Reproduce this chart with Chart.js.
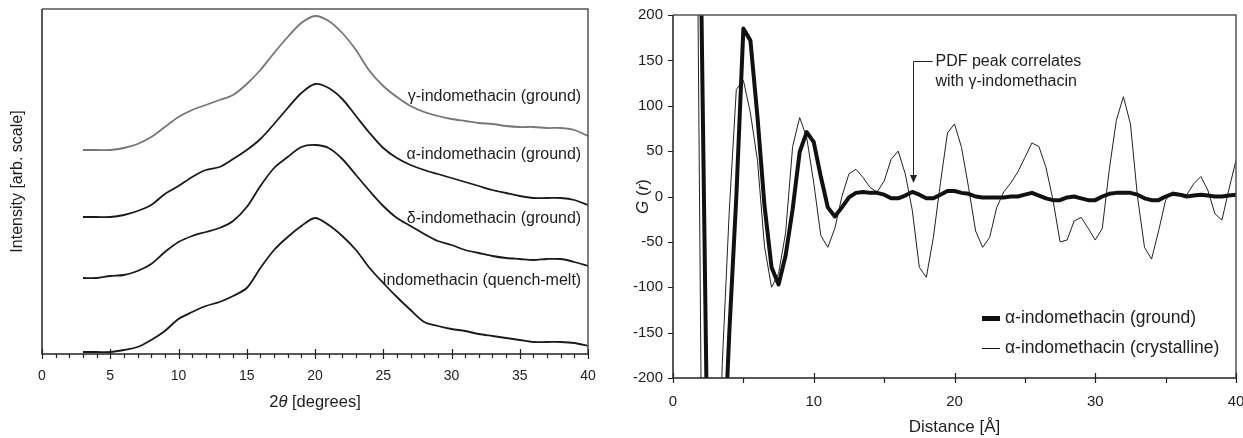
<!DOCTYPE html>
<html>
<head>
<meta charset="utf-8">
<script src="https://cdn.jsdelivr.net/npm/chart.js@4.4.1/dist/chart.umd.min.js"></script>
<style>
  html, body { margin:0; padding:0; background:#fff; }
  #wrap { position:relative; width:1243px; height:438px; overflow:hidden; }
  #left { position:absolute; left:0; top:0; width:620px; height:438px; }
  #right { position:absolute; left:620px; top:0; width:623px; height:438px; }
</style>
</head>
<body>
<div id="wrap">
  <div id="left"><canvas id="xrdChart"></canvas></div>
  <div id="right"><canvas id="pdfChart"></canvas></div>
</div>
<script>
// --- XRD (gauche) : 2theta en degres, intensite en unites arbitraires (courbes decalees)
const xrdAngle = [3,4,5,6,7,8,9,10,11,12,13,14,15,16,17,18,19,20,21,22,23,24,25,26,27,28,29,30,31,32,33,34,35,36,37,38,39,40];
const gammaGround = [204,204,204,206,210,217,227,237,244,249,254,259,270,284,301,317,331,338,333,321,304,283,268,257,248,242,238,235,233,231,230,228,227,227,226,226,224,218];
const alphaGround = [137,137,137,139,143,149,160,168,177,184,187,195,204,215,230,246,261,270,266,255,238,221,206,196,189,184,180,176,172,168,164,161,158,156,156,156,154,149];
const deltaGround = [76,76,78,79,83,90,102,112,118,122,126,133,147,168,186,197,207,209,206,195,179,163,148,136,128,120,113,109,104,101,98,96,95,94,95,95,92,88];
const quenchMelt = [2,2,2,4,7,14,23,35,42,48,52,58,66,86,104,117,128,136,129,118,104,86,71,57,44,32,28,25,23,20,18,16,14,12,12,12,11,8];
const xrdNames = ['\u03b3-indomethacin (ground)', '\u03b1-indomethacin (ground)', '\u03b4-indomethacin (ground)', 'indomethacin (quench-melt)'];
const xrdLabelY = [257, 199, 135, 73];

// --- PDF (droite) : G(r) en fonction de la distance
const distance = [1.5,2,2.5,3,3.5,4,4.5,5,5.5,6,6.5,7,7.5,8,8.5,9,9.5,10,10.5,11,11.5,12,12.5,13,13.5,14,14.5,15,15.5,16,16.5,17,17.5,18,18.5,19,19.5,20,20.5,21,21.5,22,22.5,23,23.5,24,24.5,25,25.5,26,26.5,27,27.5,28,28.5,29,29.5,30,30.5,31,31.5,32,32.5,33,33.5,34,34.5,35,35.5,36,36.5,37,37.5,38,38.5,39,39.5,40];
const groundPdf = [600,230,-350,-420,-330,-150,0,185,172,88,
  -10,-78,-97,-65,-14,49,71,60,22,-12,
  -22,-12,-1,4,5,4,4,2,-2,-2,
  1,5,2,-2,-2,2,6,6,4,3,
  0,-1,-1,-1,-1,0,0,2,4,1,
  -2,-4,-4,-1,0,-2,-4,-4,0,3,
  4,4,4,2,-2,-4,-4,0,3,2,
  0,1,2,1,0,0,1,2];
const crystalPdf = [730,-220,-500,-450,-185,-15,118,128,92,40,
  -55,-100,-85,-40,55,87,65,15,-43,-56,
  -35,0,25,30,21,10,5,17,41,50,
  25,-15,-78,-89,-45,15,70,80,54,10,
  -38,-56,-45,-12,5,15,27,43,59,55,
  32,-4,-50,-48,-27,-23,-35,-48,-35,30,
  84,110,80,0,-56,-69,-38,-4,5,3,
  2,14,22,7,-19,-26,8,40];
const pdfNames = ['\u03b1-indomethacin (ground)', '\u03b1-indomethacin (crystalline)'];

const FONT = "'Liberation Sans', Arial, Helvetica, sans-serif";
const TEXT = '#1e1e1e';

function pts(xs, ys){ return xs.map((v,i)=>({x:v, y:ys[i]})); }

// texte avec morceaux en italique
function drawRich(ctx, parts, size, cx, cy, rotate){
    ctx.save();
    ctx.translate(cx, cy);
    if(rotate) ctx.rotate(-Math.PI/2);
    const fonts = parts.map(p => (p[1] ? 'italic ' : '') + size + 'px ' + FONT);
    let total = 0;
    parts.forEach((p,i)=>{ ctx.font = fonts[i]; total += ctx.measureText(p[0]).width; });
    let x = -total/2;
    ctx.textBaseline = 'middle'; ctx.textAlign = 'left'; ctx.fillStyle = TEXT;
    parts.forEach((p,i)=>{ ctx.font = fonts[i]; ctx.fillText(p[0], x, 0); x += ctx.measureText(p[0]).width; });
    ctx.restore();
}

// tailles d'axes fixes, sans marge ajoutee pour les etiquettes
function fixX(h){ return s => { s.height = h; s.paddingLeft = 0; s.paddingRight = 0; }; }
function fixY(w){ return s => { s.width = w; s.paddingTop = 0; s.paddingBottom = 0; }; }

// cadre + graduations dessines a la main
const axisFrame = {
    id: 'axisFrame',
    afterDraw(chart, args, o){
        const {ctx, chartArea: a, scales} = chart;
        const x = scales.x, y = scales.y;
        ctx.save();
        ctx.strokeStyle = o.frameColor; ctx.lineWidth = o.frameWidth;
        ctx.beginPath();
        ctx.moveTo(a.left, a.top); ctx.lineTo(a.right, a.top); ctx.lineTo(a.right, a.bottom);
        ctx.stroke();
        ctx.strokeStyle = o.axisColor; ctx.lineWidth = o.axisWidth;
        ctx.beginPath();
        ctx.moveTo(a.left, a.top); ctx.lineTo(a.left, a.bottom); ctx.lineTo(a.right, a.bottom);
        ctx.stroke();
        ctx.lineWidth = 1.2;
        ctx.beginPath();
        for(let v = x.min; v <= x.max + 1e-9; v += o.minorX){
            const px = Math.round(x.getPixelForValue(v)) + 0.5;
            const major = Math.abs(v/o.majorX - Math.round(v/o.majorX)) < 1e-6;
            ctx.moveTo(px, a.bottom - (major ? o.majorUp : 0));
            ctx.lineTo(px, a.bottom + (major ? o.majorDown : o.minorDown));
        }
        if(o.yStep){
            for(let v = y.min; v <= y.max + 1e-9; v += o.yStep){
                const py = Math.round(y.getPixelForValue(v)) + 0.5;
                ctx.moveTo(a.left - o.yTickLen, py); ctx.lineTo(a.left, py);
            }
        }
        ctx.stroke();
        ctx.restore();
    }
};

// etiquettes des courbes XRD + titre x
const xrdText = {
    id: 'xrdText',
    afterDraw(chart){
        const {ctx, scales, chartArea: a} = chart;
        ctx.save();
        ctx.font = '16px ' + FONT; ctx.fillStyle = TEXT;
        ctx.textAlign = 'right'; ctx.textBaseline = 'middle';
        xrdNames.forEach((n,i)=>{
            ctx.fillText(n, scales.x.getPixelForValue(39.5), scales.y.getPixelForValue(xrdLabelY[i]));
        });
        ctx.restore();
        drawRich(ctx, [['2',false],['\u03b8',true],[' [degrees]',false]], 16.5, (a.left+a.right)/2, 402, false);
    }
};

// fleche, annotation, legende, titre y
const pdfText = {
    id: 'pdfText',
    afterDraw(chart){
        const {ctx, scales, chartArea: a} = chart;
        const x = scales.x, y = scales.y;
        ctx.save();
        ctx.strokeStyle = '#222'; ctx.fillStyle = '#222'; ctx.lineWidth = 1;
        const ax = Math.round(x.getPixelForValue(17.05)) + 0.5;
        const ay = Math.round(y.getPixelForValue(149)) + 0.5;
        const tip = y.getPixelForValue(15);
        ctx.beginPath();
        ctx.moveTo(x.getPixelForValue(18.45), ay); ctx.lineTo(ax, ay); ctx.lineTo(ax, tip - 6);
        ctx.stroke();
        ctx.beginPath();
        ctx.moveTo(ax - 3.5, tip - 8); ctx.lineTo(ax + 3.5, tip - 8); ctx.lineTo(ax, tip);
        ctx.closePath(); ctx.fill();
        ctx.font = '16px ' + FONT; ctx.fillStyle = TEXT;
        ctx.textAlign = 'left'; ctx.textBaseline = 'middle';
        ctx.fillText('PDF peak correlates', x.getPixelForValue(18.65), y.getPixelForValue(148.5));
        ctx.fillText('with \u03b3-indomethacin', x.getPixelForValue(18.65), y.getPixelForValue(126.5));
        // legende
        const lx0 = a.right - 254, lx1 = a.right - 236;
        const rows = [a.bottom - 59.5, a.bottom - 29.5];
        const widths = [5, 1];
        ctx.font = '17.5px ' + FONT;
        pdfNames.forEach((n,i)=>{
            ctx.strokeStyle = '#111'; ctx.lineWidth = widths[i];
            ctx.beginPath(); ctx.moveTo(lx0, rows[i]); ctx.lineTo(lx1, rows[i]); ctx.stroke();
            ctx.fillText(n, a.right - 231, rows[i]);
        });
        ctx.restore();
        drawRich(ctx, [['G',true],[' (',false],['r',true],[')',false]], 17, 23, (a.top+a.bottom)/2, true);
    }
};

const xrdColors = ['#777777', '#1a1a1a', '#1a1a1a', '#1a1a1a'];
const xrdSeries = [gammaGround, alphaGround, deltaGround, quenchMelt];

new Chart(document.getElementById('xrdChart'), {
    type: 'line',
    data: {
        datasets: xrdSeries.map((s,i)=>({
            label: xrdNames[i], data: pts(xrdAngle, s),
            borderColor: xrdColors[i], borderWidth: 1.8, pointRadius: 0, tension: 0.3, fill: false
        }))
    },
    options: {
        responsive: true, maintainAspectRatio: false, animation: false,
        layout: { padding: { top: 9, right: 32, left: 0, bottom: 0 } },
        plugins: {
            legend: { display: false }, tooltip: { enabled: false },
            axisFrame: { frameColor: '#555', frameWidth: 1.5, axisColor: '#222', axisWidth: 1.5,
                         minorX: 1, majorX: 5, majorUp: 5, majorDown: 5, minorDown: 4, yStep: 0 }
        },
        scales: {
            x: { type: 'linear', min: 0, max: 40,
                 afterFit: fixX(84),
                 grid: { display: false, drawTicks: false }, border: { display: false },
                 ticks: { stepSize: 5, padding: 14, color: TEXT, font: { family: FONT, size: 14 } } },
            y: { type: 'linear', min: 0, max: 345,
                 afterFit: fixY(42),
                 grid: { display: false, drawTicks: false }, border: { display: false },
                 ticks: { display: false },
                 title: { display: true, text: 'Intensity [arb. scale]', color: TEXT,
                          font: { family: FONT, size: 16 }, padding: { top: 8, bottom: 0 } } }
        }
    },
    plugins: [axisFrame, xrdText]
});

new Chart(document.getElementById('pdfChart'), {
    type: 'line',
    data: {
        datasets: [
            { label: pdfNames[0], data: pts(distance, groundPdf), borderColor: '#111', borderWidth: 4,
              pointRadius: 0, tension: 0, fill: false, borderJoinStyle: 'round' },
            { label: pdfNames[1], data: pts(distance, crystalPdf), borderColor: '#222', borderWidth: 1,
              pointRadius: 0, tension: 0, fill: false }
        ]
    },
    options: {
        responsive: true, maintainAspectRatio: false, animation: false,
        layout: { padding: { top: 15, right: 7, left: 0, bottom: 0 } },
        plugins: {
            legend: { display: false }, tooltip: { enabled: false },
            axisFrame: { frameColor: '#555', frameWidth: 1.5, axisColor: '#222', axisWidth: 1.5,
                         minorX: 5, majorX: 10, majorUp: 5, majorDown: 5, minorDown: 5, yStep: 50, yTickLen: 5 }
        },
        scales: {
            x: { type: 'linear', min: 0, max: 40,
                 afterFit: fixX(60),
                 grid: { display: false, drawTicks: false }, border: { display: false },
                 ticks: { stepSize: 10, padding: 15, color: TEXT, font: { family: FONT, size: 15 } },
                 title: { display: true, text: 'Distance [\u00c5]', color: TEXT,
                          font: { family: FONT, size: 17 }, padding: { top: 0, bottom: 0 } } },
            y: { type: 'linear', min: -200, max: 200,
                 afterFit: fixY(53),
                 grid: { display: false, drawTicks: false }, border: { display: false },
                 ticks: { stepSize: 50, padding: 10, color: TEXT, font: { family: FONT, size: 15 } } }
        }
    },
    plugins: [axisFrame, pdfText]
});
</script>
</body>
</html>
